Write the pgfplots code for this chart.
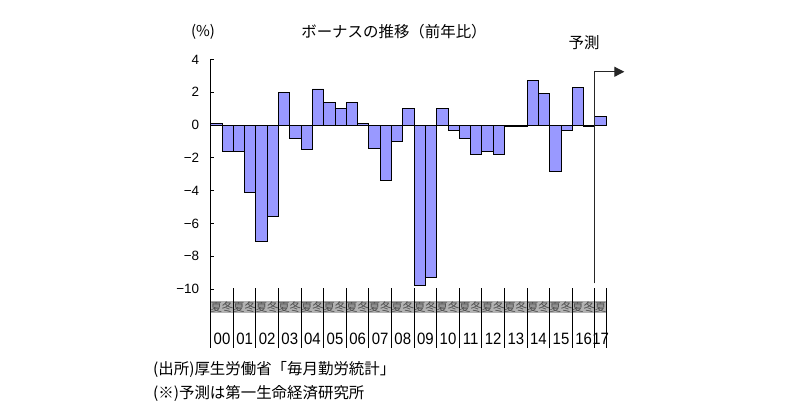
\documentclass[border=0pt]{standalone}
\usepackage{fontspec}
\setmainfont{Liberation Sans}
\newfontfamily\jp{Noto Sans CJK JP}
\usepackage{pgfplots}
\pgfplotsset{compat=1.18}
\usetikzlibrary{arrows.meta}
\definecolor{barblue}{RGB}{153,153,255}
\begin{document}
\begin{tikzpicture}[x=1bp,y=1bp]
\path[fill=white] (0,0) rectangle (798,416);
\begin{axis}[
  at={(210.7bp,113bp)}, anchor=south west,
  x=11.3bp, y=16.4bp,
  xmin=-0.5, xmax=34.5, ymin=-10.85, ymax=4,
  axis x line=none, axis y line*=left,
  axis line style={line width=1.1bp},
  tick align=inside, major tick length=3.5bp,
  tick style={line width=1bp, black},
  ytick={-10,-8,-6,-4,-2,0,2,4},
  yticklabels={−10,−8,−6,−4,−2,0,2,4},
  yticklabel style={font=\fontsize{13.5}{13.5}\selectfont, xshift=-8bp},
  ybar, bar width=11.3bp,
  clip=false,
]
\addplot[fill=barblue, draw=black, line width=0.9bp] coordinates {
(0,0.1) (1,-1.6) (2,-1.6) (3,-4.1) (4,-7.1) (5,-5.6) (6,2.0) (7,-0.8)
(8,-1.5) (9,2.2) (10,1.4) (11,1.0) (12,1.4) (13,0.1) (14,-1.4) (15,-3.4)
(16,-1.0) (17,1.0) (18,-9.8) (19,-9.3) (20,1.0) (21,-0.3) (22,-0.8) (23,-1.8)
(24,-1.6) (25,-1.8) (26,-0.1) (27,-0.1) (28,2.7) (29,1.9) (30,-2.8) (31,-0.3)
(32,2.3) (33,-0.1) (34,0.5)
};
% strip
\fill[gray!60] (axis cs:-0.5,-10.75) rectangle (axis cs:34.5,-11.45);
\pgfplotsinvokeforeach{0,2,...,32}{
  \node[font=\jp\fontsize{11.5}{11.5}\selectfont, text=black!70, inner sep=0pt] at (axis cs:#1,-11.1) {夏};
}
\pgfplotsinvokeforeach{1,3,...,33}{
  \node[font=\jp\fontsize{11.5}{11.5}\selectfont, text=black!70, inner sep=0pt] at (axis cs:#1,-11.1) {冬};
}
\node[font=\jp\fontsize{11.5}{11.5}\selectfont, text=black!70, inner sep=0pt] at (axis cs:34,-11.1) {夏};
% separators
\pgfplotsinvokeforeach{-0.5,1.5,3.5,5.5,7.5,9.5,11.5,13.5,15.5,17.5,19.5,21.5,23.5,25.5,27.5,29.5,31.5,33.5,34.5}{
  \draw[line width=1.1bp] (axis cs:#1,-9.94) -- (axis cs:#1,-13.6);
}
% year labels
\foreach \xx/\yy in {0.5/00,2.5/01,4.5/02,6.5/03,8.5/04,10.5/05,12.5/06,14.5/07,16.5/08,18.5/09,20.5/10,22.5/11,24.5/12,26.5/13,28.5/14,30.5/15,32.5/16,34.0/17}{
  \edef\tmp{\noexpand\node[font=\noexpand\fontsize{15}{15}\noexpand\selectfont, inner sep=0pt, yscale=1.1] at (axis cs:\xx,-13.05) {\yy};}
  \tmp
}
% forecast arrow
\draw[line width=1.1bp, black!85, -{Triangle[length=10bp,width=10bp]}] (axis cs:33.5,-9.65) -- (axis cs:33.5,3.25) -- (axis cs:36.1,3.25);
\end{axis}
\node[font=\jp\fontsize{15.5}{15.5}\selectfont] at (394,384) {ボーナスの推移（前年比）};
\node[font=\jp\fontsize{15}{15}\selectfont] at (203,384) {(\%)};
\node[font=\jp\fontsize{15.5}{15.5}\selectfont] at (584,373) {予測};
\node[font=\jp\fontsize{15.5}{15.5}\selectfont, anchor=west, inner sep=0pt] at (153,47) {(出所)厚生労働省「毎月勤労統計」};
\node[font=\jp\fontsize{15.5}{15.5}\selectfont, anchor=west, inner sep=0pt] at (153,23) {(※)予測は第一生命経済研究所};
\end{tikzpicture}
\end{document}
